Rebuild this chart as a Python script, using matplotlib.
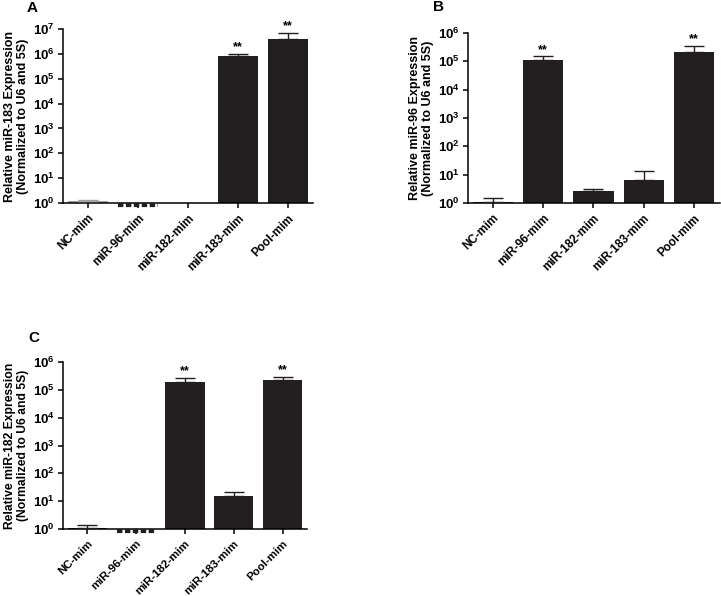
import matplotlib
matplotlib.use("Agg")
import matplotlib.pyplot as plt
import matplotlib.transforms as mtransforms
import numpy as np

plt.rcParams['font.family'] = ['Liberation Sans', 'DejaVu Sans']
plt.rcParams['font.weight'] = 'bold'
plt.rcParams['mathtext.fontset'] = 'custom'
plt.rcParams['mathtext.bf'] = 'Liberation Sans:bold'
plt.rcParams['mathtext.rm'] = 'Liberation Sans:bold'
plt.rcParams['mathtext.it'] = 'Liberation Sans:bold'

categories = ["NC-mim", "miR-96-mim", "miR-182-mim", "miR-183-mim", "Pool-mim"]

# Panel A: miR-183
a_values = [1.15, 0.8, 1.0, 7.9e5, 4.0e6]
a_err_top = [1.3, 0.8, 1.0, 1.0e6, 6.9e6]
a_sig = ["", "", "", "**", "**"]

# Panel B: miR-96
b_values = [1.12, 1.15e5, 2.7, 6.5, 2.1e5]
b_err_top = [1.5, 1.5e5, 3.1, 13, 3.5e5]
b_sig = ["", "**", "", "", "**"]

# Panel C: miR-182
c_values = [1.12, 0.8, 1.9e5, 14.9, 2.25e5]
c_err_top = [1.35, 0.8, 2.7e5, 21, 2.9e5]
c_sig = ["", "", "**", "", "**"]

W, H = 721, 596
fig = plt.figure(figsize=(W / 100, H / 100), dpi=100)

bar_color = '#231f20'


def panel(rect, values, err_top, sig, ymax_exp, ylabel, letter, letter_xy,
          nc_gray=False, xmax=4.5, ylabel_size=9, xtick_size=8.5):
    ax = fig.add_axes(rect)
    x = np.arange(len(categories))
    colors = [bar_color] * len(values)
    if nc_gray:
        colors[0] = '#a0a0a0'
    ax.set_yscale('log')
    ax.bar(x, values, width=0.8, color=colors, zorder=2)
    shift = mtransforms.ScaledTranslation(0, -1.5 / 100, fig.dpi_scale_trans)
    for i, (v, e) in enumerate(zip(values, err_top)):
        if v < 1:
            # bar below axis base: shown as a dashed thick segment
            ax.plot([i - 0.4, i + 0.4], [1, 1], color=bar_color, lw=3.0,
                    dashes=(1.3, 0.6), clip_on=False, zorder=3, solid_capstyle='butt',
                    transform=ax.transData + shift)
            continue
        if e > v:
            ax.errorbar([i], [v], yerr=[[0], [e - v]], fmt='none', ecolor=colors[i],
                        elinewidth=1.0, capsize=7.5, capthick=1.0, zorder=3)
        if sig[i]:
            ax.annotate(sig[i], (i, e), xytext=(0, 0.3), textcoords='offset points',
                        ha='center', va='bottom', fontsize=9, fontweight='bold')
    ax.set_ylim(1, 10 ** ymax_exp)
    ax.set_xlim(-0.5, xmax)
    ax.set_yticks([10 ** k for k in range(ymax_exp + 1)])
    ax.set_yticklabels([r'$\mathbf{10^{%d}}$' % k for k in range(ymax_exp + 1)])
    ax.yaxis.set_minor_locator(matplotlib.ticker.NullLocator())
    ax.set_xticks(x)
    ax.set_xticklabels(categories, rotation=45, ha='right', rotation_mode='anchor',
                       fontsize=xtick_size, fontweight='bold')
    for sp in ['top', 'right']:
        ax.spines[sp].set_visible(False)
    for sp in ['left', 'bottom']:
        ax.spines[sp].set_linewidth(1.1)
    ax.tick_params(axis='both', width=1.1, length=3.6, direction='out')
    ax.tick_params(axis='y', labelsize=9.5, pad=2.5)
    ax.tick_params(axis='x', pad=3)
    ax.set_ylabel(ylabel, fontsize=ylabel_size, fontweight='bold', labelpad=2.5, linespacing=1.1)
    fig.text(letter_xy[0] / W, 1 - letter_xy[1] / H, letter, fontsize=11,
             fontweight='bold', ha='left', va='center')
    return ax


panel([63 / W, 1 - 203 / H, 250 / W, 174 / H], a_values, a_err_top, a_sig, 7,
      "Relative miR-183 Expression\n(Normalized to U6 and 5S)", "A", (27, 8), nc_gray=True)
panel([468 / W, 1 - 203 / H, 252 / W, 170 / H], b_values, b_err_top, b_sig, 6,
      "Relative miR-96 Expression\n(Normalized to U6 and 5S)", "B", (433, 7), xmax=4.52)
panel([63 / W, 1 - 529 / H, 244 / W, 167 / H], c_values, c_err_top, c_sig, 6,
      "Relative miR-182 Expression\n(Normalized to U6 and 5S)", "C", (28, 338),
      ylabel_size=8.7, xtick_size=8.2)

fig.savefig("out.png", dpi=100)
